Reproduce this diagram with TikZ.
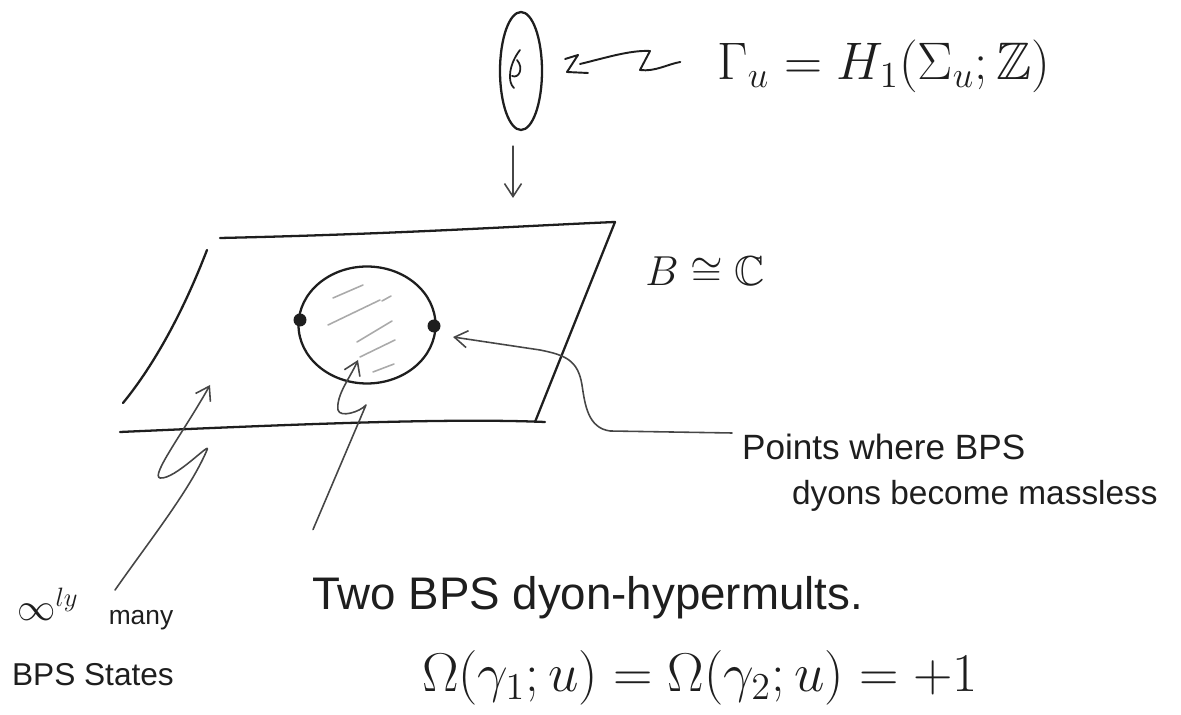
\documentclass[tikz,border=0pt]{standalone}
\usepackage{amssymb}
\usepackage{fontspec}
\setmainfont{Liberation Sans}
\usetikzlibrary{arrows.meta,shapes.geometric,calc}
\definecolor{ink}{RGB}{30,30,30}
\definecolor{pencil}{RGB}{70,70,70}
\definecolor{shade}{RGB}{170,170,170}
\tikzset{
  >={Straight Barb[length=2.6mm,width=3.4mm]},
  pen/.style={draw=ink,line width=1.3pt,line cap=round,line join=round},
  lead/.style={->,draw=pencil,line width=0.9pt,line cap=round,line join=round},
  hatch/.style={draw=shade,line width=0.9pt,line cap=round},
  dot/.style={circle,fill=ink,inner sep=0pt,minimum size=2.6mm},
  hand/.style={text=ink,inner sep=1pt,font=\fontsize{#1}{#1}\selectfont},
  hand/.default=20,
  % math labels: 24.88pt is the largest math size, so scale up from there
  formula/.style={text=ink,inner sep=1pt,font=\huge,scale=#1,transform shape},
  formula/.default=1.2,
}

\begin{document}
\begin{tikzpicture}[x=0.02cm,y=-0.02cm]
  \useasboundingbox (0,0) rectangle (1181,715);
  % fibre and its charge lattice
  \node[pen,ellipse,minimum width=8.4mm,minimum height=23.6mm,inner sep=0pt] (fiber) at (521,71) {};
  \draw[pen,line width=1pt] (520,50) .. controls (509,64) and (507,82) .. (514,88)
    (517,60) .. controls (524,68) and (519,79) .. (512,76);
  \node[formula=1.45] (gamma) at (884,66) {$\Gamma_u = H_1(\Sigma_u;\mathbb{Z})$};
  \draw[pen,line width=1.1pt] (fiber.east) ++(22,-12) -- (578,55) -- (567,72) -- (588,73)
    (580,64) .. controls (605,58) and (630,50) .. (650,51) -- (640,70)
    .. controls (655,72) and (668,64) .. ([shift={(-34,-4)}]gamma.west);
  \coordinate (planeTop) at (513,198);
  \draw[lead] (fiber.south) ++(-8,15) -- (planeTop);

  % the u-plane
  \draw[pen] (220,238) .. controls (400,234) and (520,226) .. (615,222) -- (535,422);
  \draw[pen] (207,250) .. controls (180,320) and (150,370) .. (123,403);
  \draw[pen] (120,432) .. controls (300,424) and (450,418) .. (545,422);
  \node[formula=1.15] (base) at (705,272) {$B \cong \mathbb{C}$};

  % strong coupling region
  \node[pen,ellipse,minimum width=27.4mm,minimum height=23.4mm,inner sep=0pt] (disc) at (367,325) {};
  \foreach \xa/\ya/\xb/\yb in {333/298/363/285,328/325/380/300,357/342/392/321,
      360/357/395/340,373/372/394/364,382/301/391/296}
    \draw[hatch] (\xa,\ya) -- (\xb,\yb);
  \node[dot] (dotL) at (300,320) {};
  \node[dot] (dotR) at (434,326) {};
  \coordinate (bulk) at (210,385);

  % labels
  \node[hand=20,anchor=west] (points) at (740,447) {Points where BPS};
  \node[hand=19,anchor=west] (dyons) at (790,496) {dyons become massless};
  \node[hand=26,anchor=west] (hyper) at (310,598) {Two BPS dyon-hypermults.};
  \node[formula=1.5] (index) at (700,678) {$\Omega(\gamma_1;u) = \Omega(\gamma_2;u) = +1$};
  \node[formula=1.05] (infly) at (48,604) {$\infty^{ly}$};
  \node[hand=15] (many) at (141,620) {many};
  \node[hand=18,anchor=west] (states) at (10,675) {BPS States};

  % leads
  \draw[lead] ([shift={(-8,-14)}]points.west) -- (610,431) .. controls (588,428) and (585,405) .. (582,385)
    .. controls (578,360) and (565,355) .. (540,350) -- ([shift={(19,11)}]dotR.center);
  \draw[lead] ([shift={(3,-45)}]hyper.north west) -- (366,405) .. controls (360,412) and (340,418) .. (338,410)
    .. controls (336,395) and (350,378) .. (358,360);
  \draw[lead] ([shift={(-26,-18)}]many.north) .. controls (150,540) and (190,490) .. (207,450)
    .. controls (212,440) and (175,480) .. (160,478) .. controls (150,476) and (185,430) .. (bulk);
\end{tikzpicture}
\end{document}
